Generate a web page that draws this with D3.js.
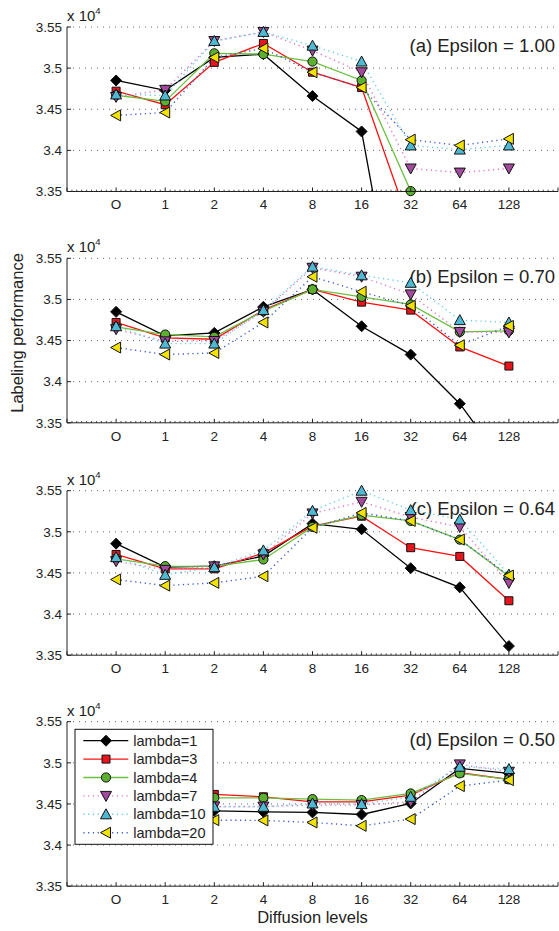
<!DOCTYPE html>
<html>
<head>
<meta charset="utf-8">
<script src="https://cdn.jsdelivr.net/npm/d3@7"></script>
<style>
  body { margin: 0; background: #fff; }
  svg { display: block; font-family: "Liberation Sans", Arial, sans-serif; }
</style>
</head>
<body>
<svg id="chart" width="559" height="931"></svg>
<script>
// Data (values in units of 1e4)
const levels = ['O', '1', '2', '4', '8', '16', '32', '64', '128'];
const yTicks = [3.35, 3.4, 3.45, 3.5, 3.55];
const panelTitles = ['(a) Epsilon = 1.00', '(b) Epsilon = 0.70', '(c) Epsilon = 0.64', '(d) Epsilon = 0.50'];
const seriesNames = ['lambda=1', 'lambda=3', 'lambda=4', 'lambda=7', 'lambda=10', 'lambda=20'];

const epsilon100 = [
    [3.485, 3.473, 3.513, 3.517, 3.466, 3.423, 3.099, 3.085, 3.080],
    [3.472, 3.4555, 3.507, 3.530, 3.495, 3.4764, 3.306, 3.29, 3.28],
    [3.467, 3.4595, 3.518, 3.517, 3.508, 3.485, 3.3505, 3.3485, 3.345],
    [3.465, 3.4736, 3.533, 3.544, 3.5213, 3.495, 3.378, 3.373, 3.378],
    [3.468, 3.4667, 3.533, 3.544, 3.5273, 3.508, 3.406, 3.401, 3.406],
    [3.4425, 3.446, 3.513, 3.524, 3.495, 3.4764, 3.413, 3.406, 3.414]
];
const epsilon070 = [
    [3.4849, 3.4556, 3.4593, 3.491, 3.5122, 3.4674, 3.4329, 3.3732, 3.292],
    [3.472, 3.4532, 3.4516, 3.487, 3.5122, 3.4967, 3.487, 3.4422, 3.419],
    [3.4666, 3.4573, 3.4544, 3.4857, 3.5122, 3.5032, 3.4939, 3.4605, 3.4618],
    [3.4638, 3.449, 3.4495, 3.4849, 3.5385, 3.5276, 3.5061, 3.4605, 3.4598],
    [3.4674, 3.4463, 3.4463, 3.487, 3.5398, 3.5293, 3.5202, 3.4748, 3.472],
    [3.4415, 3.433, 3.4349, 3.472, 3.5276, 3.5093, 3.4922, 3.4443, 3.4678]
];
const epsilon064 = [
    [3.4856, 3.457, 3.4582, 3.4705, 3.51, 3.5031, 3.4558, 3.4325, 3.3611],
    [3.4725, 3.455, 3.455, 3.4741, 3.507, 3.519, 3.4807, 3.4701, 3.4162],
    [3.4672, 3.4582, 3.458, 3.4664, 3.506, 3.5203, 3.5133, 3.4905, 3.446],
    [3.4643, 3.4538, 3.458, 3.4725, 3.5223, 3.5365, 3.518, 3.5059, 3.4379],
    [3.4692, 3.4477, 3.457, 3.4774, 3.5255, 3.55, 3.5264, 3.515, 3.448],
    [3.442, 3.4346, 3.4379, 3.446, 3.505, 3.523, 3.5133, 3.4905, 3.4468]
];
const epsilon050 = [
    [3.485, 3.443, 3.4417, 3.4404, 3.4397, 3.4372, 3.4506, 3.4932, 3.4872],
    [3.472, 3.460, 3.4616, 3.4587, 3.4526, 3.4526, 3.4608, 3.4879, 3.4799],
    [3.467, 3.458, 3.4575, 3.4575, 3.4559, 3.4547, 3.4628, 3.4872, 3.4799],
    [3.464, 3.448, 3.447, 3.4468, 3.4486, 3.4486, 3.4526, 3.4981, 3.4891],
    [3.468, 3.447, 3.4465, 3.4465, 3.4506, 3.4498, 3.4587, 3.4952, 3.4924],
    [3.442, 3.431, 3.4303, 3.430, 3.4275, 3.4234, 3.4316, 3.4717, 3.479]
];
const panels = [epsilon100, epsilon070, epsilon064, epsilon050];

// Styles
const STYLES = [
    { line: '#000000', fill: '#000000', dash: null, shape: 'diamond' },
    { line: '#ff1010', fill: '#e8141c', dash: null, shape: 'square' },
    { line: '#6cc040', fill: '#5cb030', dash: null, shape: 'circle' },
    { line: '#e070c8', fill: '#a24a9c', dash: '1.2,3.6', shape: 'down' },
    { line: '#60d0e0', fill: '#4fb8d2', dash: '1.2,3.6', shape: 'up' },
    { line: '#3858d0', fill: '#f2e200', dash: '1.2,3.6', shape: 'left' }
];

const LAYOUT = {
    left: 67,
    right: 558,
    tops: [27, 258.3, 490.7, 721.7],
    height: 164.5
};

const svg = d3.select('#chart');

const x = d3.scaleLinear().domain([-1, 9]).range([LAYOUT.left, LAYOUT.right]);

function markerPath(shape) {
    const p = d3.path();
    if (shape === 'diamond') {
        p.moveTo(0, -5.5); p.lineTo(5.5, 0); p.lineTo(0, 5.5); p.lineTo(-5.5, 0); p.closePath();
    } else if (shape === 'square') {
        p.rect(-4, -4, 8, 8);
    } else if (shape === 'circle') {
        p.arc(0, 0, 4.6, 0, 2 * Math.PI);
    } else if (shape === 'down') {
        p.moveTo(-5.5, -4.5); p.lineTo(5.5, -4.5); p.lineTo(0, 5.5); p.closePath();
    } else if (shape === 'up') {
        p.moveTo(-5.5, 4.5); p.lineTo(5.5, 4.5); p.lineTo(0, -5.5); p.closePath();
    } else if (shape === 'left') {
        p.moveTo(4.5, -5.5); p.lineTo(4.5, 5.5); p.lineTo(-5.5, 0); p.closePath();
    }
    return p.toString();
}

function drawPanel(data, i) {
    const top = LAYOUT.tops[i];
    const bottom = top + LAYOUT.height;
    const y = d3.scaleLinear().domain([3.35, 3.55]).range([bottom, top]);
    const g = svg.append('g');

    // grid
    g.append('g').selectAll('line').data(yTicks.slice(1)).join('line')
        .attr('x1', LAYOUT.left).attr('x2', LAYOUT.right)
        .attr('y1', d => y(d)).attr('y2', d => y(d))
        .attr('stroke', '#555').attr('stroke-width', 0.9)
        .attr('stroke-dasharray', '1,5');

    // clip
    const clipId = 'clip' + i;
    svg.append('clipPath').attr('id', clipId).append('rect')
        .attr('x', LAYOUT.left).attr('y', top - 1)
        .attr('width', LAYOUT.right - LAYOUT.left).attr('height', LAYOUT.height + 1.5);

    // title
    g.append('text')
        .attr('x', 555).attr('y', top + 18.3)
        .attr('dy', '0.35em')
        .attr('text-anchor', 'end')
        .attr('font-size', 18.5)
        .attr('fill', '#222')
        .text(panelTitles[i]);

    // lines
    const line = d3.line().x((d, j) => x(j)).y(d => y(d));
    data.forEach((vals, s) => {
        const st = STYLES[s];
        g.append('path')
            .datum(vals)
            .attr('clip-path', `url(#${clipId})`)
            .attr('fill', 'none')
            .attr('stroke', st.line)
            .attr('stroke-width', st.dash ? 1.4 : 1.3)
            .attr('stroke-dasharray', st.dash)
            .attr('d', line);
    });

    // markers
    data.forEach((vals, s) => {
        const st = STYLES[s];
        g.append('g').selectAll('path')
            .data(vals.map((v, j) => ({ v, j })).filter(d => d.v >= 3.3495 && d.v <= 3.5505))
            .join('path')
            .attr('transform', d => `translate(${x(d.j)},${y(d.v)})`)
            .attr('d', markerPath(st.shape))
            .attr('fill', st.fill)
            .attr('stroke', '#111')
            .attr('stroke-width', 1);
    });

    // axes
    const axisColor = '#222';
    g.append('line')
        .attr('x1', LAYOUT.left).attr('x2', LAYOUT.left)
        .attr('y1', top).attr('y2', bottom)
        .attr('stroke', axisColor).attr('stroke-width', 1);
    g.append('line')
        .attr('x1', LAYOUT.left).attr('x2', LAYOUT.right)
        .attr('y1', bottom).attr('y2', bottom)
        .attr('stroke', axisColor).attr('stroke-width', 1);

    // y ticks
    g.append('g').selectAll('line').data(yTicks).join('line')
        .attr('x1', LAYOUT.left).attr('x2', LAYOUT.left + 4)
        .attr('y1', d => y(d)).attr('y2', d => y(d))
        .attr('stroke', axisColor);
    g.append('g').selectAll('text').data(yTicks).join('text')
        .attr('x', LAYOUT.left - 5).attr('y', d => y(d))
        .attr('dy', '0.35em')
        .attr('text-anchor', 'end')
        .attr('font-size', 13.5)
        .attr('fill', '#222')
        .text(d => d3.format('')(+d.toFixed(2)));

    // x minor ticks
    const minor = d3.range(-10, 91).map(k => k / 10).filter(v => Math.abs(v - Math.round(v)) > 1e-6);
    g.append('g').selectAll('line').data(minor).join('line')
        .attr('x1', d => x(d)).attr('x2', d => x(d))
        .attr('y1', bottom).attr('y2', bottom - 1.8)
        .attr('stroke', axisColor).attr('stroke-width', 0.8);
    // x major ticks
    const major = d3.range(-1, 10);
    g.append('g').selectAll('line').data(major).join('line')
        .attr('x1', d => x(d)).attr('x2', d => x(d))
        .attr('y1', bottom).attr('y2', bottom - 4)
        .attr('stroke', axisColor);
    g.append('g').selectAll('text').data(levels).join('text')
        .attr('x', (d, j) => x(j)).attr('y', bottom + 13)
        .attr('dy', '0.35em')
        .attr('text-anchor', 'middle')
        .attr('font-size', 13.5)
        .attr('fill', '#222')
        .text(d => d);

    // exponent label
    const ex = g.append('text')
        .attr('x', LAYOUT.left).attr('y', top - 6)
        .attr('font-size', 15)
        .attr('fill', '#222');
    ex.append('tspan').text('x 10');
    ex.append('tspan').attr('dy', -7).attr('font-size', 9.5).text('4');
}

panels.forEach(drawPanel);

// legend on last panel
const legend = svg.append('g').attr('transform', 'translate(75,729.3)');
legend.append('rect')
    .attr('width', 138).attr('height', 115)
    .attr('fill', '#fff').attr('stroke', '#111').attr('stroke-width', 1);
seriesNames.forEach((name, s) => {
    const st = STYLES[s];
    const ry = 11.4 + s * 18.4;
    legend.append('line')
        .attr('x1', 8.3).attr('x2', 53.3)
        .attr('y1', ry).attr('y2', ry)
        .attr('stroke', st.line)
        .attr('stroke-width', st.dash ? 1.4 : 1.3)
        .attr('stroke-dasharray', st.dash);
    legend.append('path')
        .attr('transform', `translate(31,${ry})`)
        .attr('d', markerPath(st.shape))
        .attr('fill', st.fill)
        .attr('stroke', '#111');
    legend.append('text')
        .attr('x', 58.3).attr('y', ry)
        .attr('dy', '0.35em')
        .attr('font-size', 14.5)
        .attr('fill', '#222')
        .text(name);
});

// axis titles
svg.append('text')
    .attr('x', 312.5).attr('y', 917)
    .attr('dy', '0.35em')
    .attr('text-anchor', 'middle')
    .attr('font-size', 16.5)
    .attr('fill', '#222')
    .text('Diffusion levels');

svg.append('text')
    .attr('transform', 'translate(17,333) rotate(-90)')
    .attr('dy', '0.35em')
    .attr('text-anchor', 'middle')
    .attr('font-size', 16.5)
    .attr('fill', '#222')
    .text('Labeling performance');
</script>
</body>
</html>
